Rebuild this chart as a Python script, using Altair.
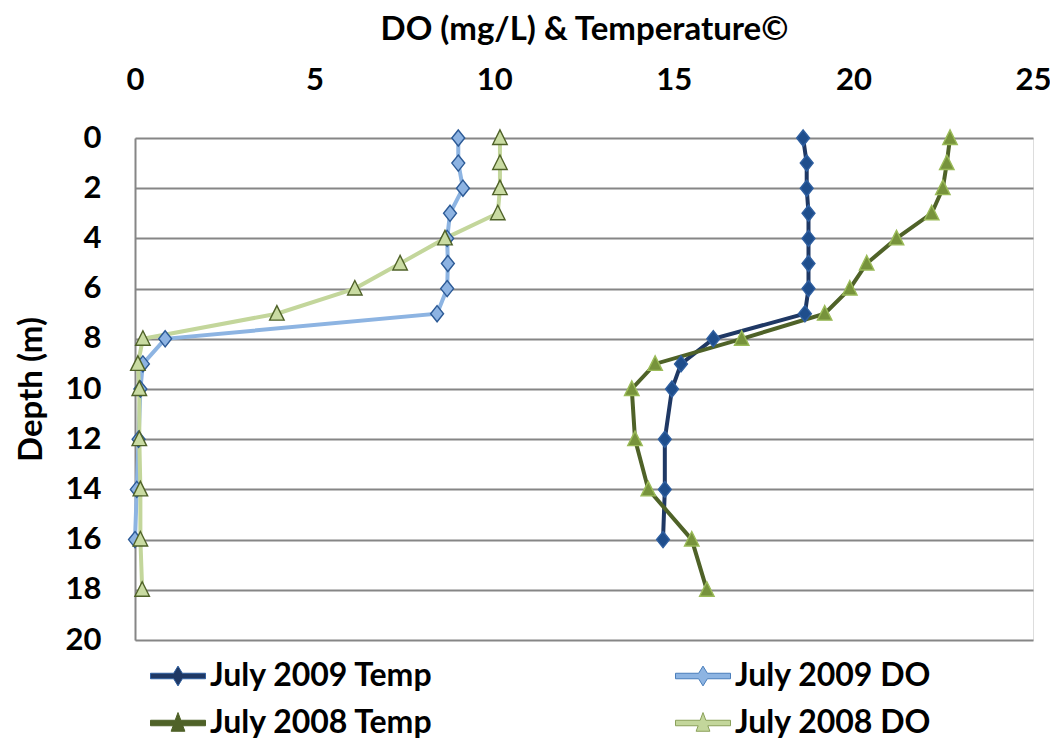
import altair as alt
import pandas as pd

# ---- data ----
series_names = ["July 2009 Temp", "July 2009 DO", "July 2008 Temp", "July 2008 DO"]

depth_2009 = [0, 1, 2, 3, 4, 5, 6, 7, 8, 9, 10, 12, 14, 16]
temp_2009 = [18.6, 18.7, 18.7, 18.75, 18.75, 18.75, 18.75, 18.65, 16.1, 15.2, 14.95, 14.75, 14.75, 14.7]
do_2009 = [9.0, 9.0, 9.13, 8.77, 8.69, 8.71, 8.69, 8.41, 0.84, 0.22, 0.15, 0.1, 0.05, 0.0]

depth_2008 = [0, 1, 2, 3, 4, 5, 6, 7, 8, 9, 10, 12, 14, 16, 18]
temp_2008 = [22.69, 22.6, 22.49, 22.18, 21.2, 20.37, 19.9, 19.2, 16.89, 14.48, 13.83, 13.92, 14.29, 15.5, 15.92]
do_2008 = [10.16, 10.16, 10.16, 10.1, 8.63, 7.38, 6.12, 3.95, 0.22, 0.08, 0.12, 0.12, 0.15, 0.15, 0.2]

y_ticks = [0, 2, 4, 6, 8, 10, 12, 14, 16, 18, 20]
x_ticks = [0, 5, 10, 15, 20, 25]

# ---- styling ----
line_colors = ["#1F3864", "#8DB4E2", "#4F6228", "#C3D69B"]
marker_fill = ["#1F4E8C", "#8DB3E2", "#77933C", "#C9DBA2"]
marker_stroke = ["#2F5FA0", "#2C5A96", "#9BBB59", "#4F6228"]
legend_fill = ["#1F3864", "#8DB4E2", "#4F6228", "#C3D69B"]
legend_stroke = ["#2F5FA0", "#4A7EBB", "#4F6228", "#8AA05A"]

diamond = "M0,-1L0.8,0L0,1L-0.8,0Z"
triangle = "M0,-1L0.9,0.8L-0.9,0.8Z"
leg_diamond = ("M-1,-0.1L-0.159,-0.1L0,-0.36L0.159,-0.1L1,-0.1L1,0.1L0.159,0.1"
               "L0,0.36L-0.159,0.1L-1,0.1Z")
leg_triangle = ("M-1,-0.1L-0.103,-0.1L0,-0.38L0.103,-0.1L1,-0.1L1,0.1L0.176,0.1"
                "L0.25,0.3L-0.25,0.3L-0.176,0.1L-1,0.1Z")

rows = []
for s, depths, vals in [
    (series_names[0], depth_2009, temp_2009),
    (series_names[1], depth_2009, do_2009),
    (series_names[2], depth_2008, temp_2008),
    (series_names[3], depth_2008, do_2008),
]:
    for d, v in zip(depths, vals):
        rows.append({"series": s, "depth": d, "value": v})
df = pd.DataFrame(rows)

FONT = "Lato"

x_enc = alt.X("value:Q",
              scale=alt.Scale(domain=[0, 25], nice=False),
              axis=alt.Axis(orient="top", values=x_ticks, title="DO (mg/L) & Temperature©",
                            grid=False, domain=False, ticks=False, labelFlush=False,
                            labelFont=FONT, labelFontSize=31, labelFontWeight="bold", labelColor="#000",
                            labelPadding=42,
                            titleFont=FONT, titleFontSize=33, titleFontWeight="bold", titleColor="#000",
                            titlePadding=18))
y_enc = alt.Y("depth:Q",
              scale=alt.Scale(domain=[0, 20], reverse=True, nice=False),
              axis=alt.Axis(values=y_ticks, title="Depth (m)", grid=True, gridColor="#868686",
                            gridWidth=2, domain=True, domainColor="#868686", domainWidth=2,
                            ticks=False, labelFlush=False,
                            labelFont=FONT, labelFontSize=31, labelFontWeight="bold", labelColor="#000",
                            labelPadding=34,
                            titleFont=FONT, titleFontSize=33, titleFontWeight="bold", titleColor="#000",
                            titlePadding=17))

base = alt.Chart(df)

lines = base.mark_line(strokeWidth=4).encode(
    x=x_enc, y=y_enc,
    color=alt.Color("series:N", scale=alt.Scale(domain=series_names, range=line_colors), legend=None),
    order=alt.Order("depth:Q"),
)

points = base.mark_point(filled=True, size=260, opacity=1, strokeWidth=1.4).encode(
    x="value:Q", y="depth:Q",
    shape=alt.Shape("series:N", scale=alt.Scale(domain=series_names,
                                                range=[diamond, diamond, triangle, triangle]), legend=None),
    fill=alt.Fill("series:N", scale=alt.Scale(domain=series_names, range=marker_fill), legend=None),
    stroke=alt.Stroke("series:N", scale=alt.Scale(domain=series_names, range=marker_stroke), legend=None),
)

leg = alt.Legend(title=None, orient="none", legendX=15, legendY=510, columns=2, direction="horizontal",
                 labelFont=FONT, labelFontSize=32, labelFontWeight="bold", labelColor="#000",
                 labelLimit=500, symbolSize=3025, symbolStrokeWidth=1, labelOffset=4,
                 rowPadding=3, columnPadding=239, symbolOpacity=1)

legend_layer = base.transform_calculate(label="datum.series").transform_filter("false").mark_point(
    filled=True, opacity=1).encode(
    x="value:Q", y="depth:Q",
    shape=alt.Shape("label:N", scale=alt.Scale(domain=series_names,
                                               range=[leg_diamond, leg_diamond, leg_triangle, leg_triangle]),
                    legend=leg),
    fill=alt.Fill("label:N", scale=alt.Scale(domain=series_names, range=legend_fill), legend=leg),
    stroke=alt.Stroke("label:N", scale=alt.Scale(domain=series_names, range=legend_stroke), legend=leg),
)

chart = alt.layer(lines, points, legend_layer).resolve_scale(
    shape="independent", fill="independent", stroke="independent"
).properties(
    width=898, height=502,
    autosize=alt.AutoSizeParams(type="none"),
    padding={"left": 127, "top": 130, "right": 17, "bottom": 102},
).configure_view(stroke=None).configure(background="white")

chart.save("out.html", embed_options={"renderer": "svg", "actions": False})
